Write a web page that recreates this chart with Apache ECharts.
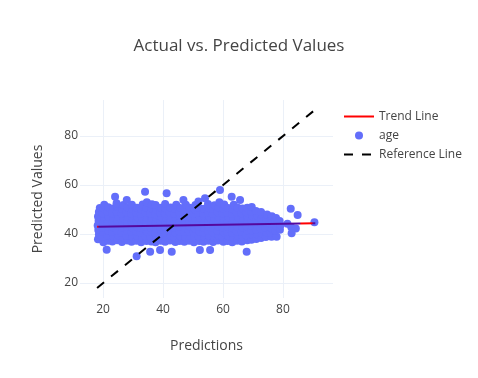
<!DOCTYPE html>
<html>
<head>
<meta charset="utf-8">
<script src="https://cdn.jsdelivr.net/npm/echarts@6/dist/echarts.min.js"></script>
<style>
html,body{margin:0;padding:0;background:#fff;}
#chart{width:478px;height:378px;}
</style>
</head>
<body>
<div id="chart"></div>
<script>
// ---- data ----
const titleText = 'Actual vs. Predicted Values';
const xAxisName = 'Predictions';
const yAxisName = 'Predicted Values';
const xTicks = [20, 40, 60, 80];
const yTicks = [20, 40, 60, 80];
const xRange = [12.3, 96.7];
const yRange = [13.9, 94.7];

const trendX = [18.0, 90.8];
const trendY = [43.0, 44.4];
const refX = [18.0, 90.8];
const refY = [18.0, 90.8];

// "age" points: [prediction, actual]
const agePoints = [
[18.3,37.9],[18.6,39.8],[18.4,41.7],[18.2,43.5],[18.5,45.4],[18.3,47.2],[18.6,49.0],[18.9,50.6],
[20.1,36.6],[19.8,38.9],[20.2,40.8],[19.9,42.6],[20.0,44.6],[20.3,46.5],[19.8,48.4],[20.1,50.5],[20.4,52.0],
[21.2,33.6],[21.7,37.3],[21.5,39.3],[21.8,41.3],[21.4,43.2],[21.6,45.1],[21.9,47.0],[21.5,49.0],[21.7,50.9],
[23.1,37.0],[23.4,39.0],[23.0,40.9],[23.3,42.8],[23.2,44.7],[23.5,46.6],[23.0,48.5],[23.3,50.4],[24.0,55.2],
[24.7,37.5],[25.0,39.5],[24.6,41.4],[24.9,43.3],[24.8,45.2],[25.1,47.1],[24.6,49.0],[24.9,51.0],[24.5,52.6],
[26.3,36.8],[26.6,38.7],[26.2,40.6],[26.5,42.6],[26.4,44.5],[26.7,46.4],[26.2,48.3],[26.5,50.2],[26.8,51.9],
[28.1,37.4],[27.8,39.3],[28.2,41.2],[27.9,43.1],[28.0,45.0],[28.3,47.0],[27.8,48.9],[28.1,50.8],[27.9,53.9],
[29.5,36.9],[29.8,38.8],[29.4,40.8],[29.7,42.7],[29.6,44.6],[29.9,46.5],[29.4,48.4],[29.7,50.3],[29.6,52.0],
[31.2,30.9],[31.1,37.3],[31.4,39.2],[31.0,41.1],[31.3,43.0],[31.2,45.0],[31.5,46.9],[31.0,48.8],[31.3,50.7],
[32.7,36.7],[33.0,38.6],[32.6,40.5],[32.9,42.5],[32.8,44.4],[33.1,46.3],[32.6,48.2],[32.9,50.1],[33.2,52.1],
[34.0,57.3],[34.5,37.2],[34.2,39.2],[34.6,41.1],[34.3,43.0],[34.4,44.9],[34.7,46.8],[34.2,48.7],[34.5,50.7],[34.6,53.0],
[35.7,32.8],[36.1,37.0],[35.8,38.9],[36.2,40.8],[35.9,42.7],[36.0,44.6],[36.3,46.5],[35.8,48.5],[36.1,50.4],[36.3,52.2],
[37.5,36.6],[37.8,38.5],[37.4,40.4],[37.7,42.3],[37.6,44.3],[37.9,46.2],[37.4,48.1],[37.7,50.0],[37.5,51.9],
[39.0,33.5],[39.3,37.3],[39.0,39.2],[39.4,41.1],[39.1,43.0],[39.2,45.0],[39.5,46.9],[39.0,48.8],[39.3,50.7],
[41.2,56.6],[40.7,36.9],[41.0,38.8],[40.6,40.7],[40.9,42.6],[40.8,44.6],[41.1,46.5],[40.6,48.4],[40.9,50.3],[40.7,52.3],
[42.9,32.8],[42.3,37.4],[42.6,39.3],[42.2,41.2],[42.5,43.1],[42.4,45.0],[42.7,46.9],[42.2,48.9],[42.5,50.8],
[44.1,36.8],[43.8,38.7],[44.2,40.6],[43.9,42.5],[44.0,44.4],[44.3,46.4],[43.8,48.3],[44.1,50.2],[44.4,52.0],
[45.5,37.2],[45.8,39.1],[45.4,41.1],[45.7,43.0],[45.6,44.9],[45.9,46.8],[45.4,48.7],[45.7,50.6],
[46.8,53.9],[47.1,36.9],[47.4,38.8],[47.0,40.8],[47.3,42.7],[47.2,44.6],[47.5,46.5],[47.0,48.4],[47.3,50.4],[47.6,52.0],
[48.7,37.3],[49.0,39.2],[48.6,41.1],[48.9,43.0],[48.8,44.9],[49.1,46.9],[48.6,48.8],[48.9,50.7],
[50.3,36.7],[50.6,38.6],[50.2,40.5],[50.5,42.4],[50.4,44.4],[50.7,46.3],[50.2,48.2],[50.5,50.1],[50.8,51.9],
[51.8,53.3],[52.3,33.5],[52.1,37.2],[51.8,39.1],[52.2,41.0],[51.9,42.9],[52.0,44.8],[52.3,46.7],[51.8,48.7],[52.1,50.6],
[53.5,36.9],[53.8,38.8],[53.4,40.7],[53.7,42.6],[53.6,44.6],[53.9,46.5],[53.4,48.4],[53.7,50.3],[54.0,54.6],
[55.7,33.5],[55.1,37.3],[55.4,39.2],[55.0,41.2],[55.3,43.1],[55.2,45.0],[55.5,46.9],[55.0,48.8],[55.3,50.8],[55.0,52.3],
[56.7,36.8],[57.0,38.7],[56.6,40.6],[56.9,42.5],[56.8,44.5],[57.1,46.4],[56.6,48.3],[56.9,50.2],[57.2,51.8],
[59.0,58.0],[58.3,37.4],[58.6,39.3],[58.2,41.2],[58.5,43.1],[58.4,45.1],[58.7,47.0],[58.2,48.9],[58.5,50.8],[58.8,53.0],
[60.1,36.9],[59.8,38.8],[60.2,40.7],[59.9,42.7],[60.0,44.6],[60.3,46.5],[59.8,48.4],[60.1,50.3],[60.4,52.1],
[61.5,37.2],[61.8,39.1],[61.4,41.0],[61.7,42.9],[61.6,44.9],[61.9,46.8],[61.4,48.7],[61.7,50.6],
[62.9,55.2],[63.1,36.7],[63.4,38.6],[63.0,40.5],[63.3,42.4],[63.2,44.3],[63.5,46.3],[63.0,48.2],[63.3,50.1],[63.6,52.0],
[64.7,37.3],[65.0,39.2],[64.6,41.1],[64.9,43.0],[64.8,44.9],[65.1,46.8],[64.6,48.8],[64.9,50.7],
[65.7,53.9],[66.3,37.0],[66.6,38.9],[66.2,40.8],[66.5,42.7],[66.4,44.6],[66.7,46.6],[66.2,48.5],[66.5,50.4],
[67.9,32.8],[68.1,37.5],[67.8,39.4],[68.2,41.3],[67.9,43.2],[68.0,45.1],[68.3,47.0],[67.8,48.9],[68.1,50.7],
[69.5,37.7],[69.8,39.6],[69.4,41.5],[69.7,43.4],[69.6,45.4],[69.9,47.3],[69.4,49.2],[69.6,51.0],
[71.1,38.0],[71.4,39.9],[71.0,41.8],[71.3,43.7],[71.2,45.6],[71.5,47.5],[71.0,49.4],
[72.7,38.4],[73.0,40.3],[72.6,42.2],[72.9,44.1],[72.8,46.0],[73.1,47.9],[72.7,49.0],
[74.3,38.8],[74.6,40.7],[74.2,42.6],[74.5,44.5],[74.4,46.4],[74.7,48.0],
[76.2,38.9],[75.9,40.5],[76.1,42.4],[75.8,44.3],[76.0,46.2],[76.3,47.3],
[77.9,38.9],[77.5,41.3],[77.8,43.2],[77.4,45.1],[77.7,46.5],
[79.0,41.8],[79.2,43.6],[78.9,45.3],
[82.6,50.3],[84.9,47.8],[81.5,44.2],[82.8,42.8],[84.3,42.3],[82.9,40.3],[90.5,44.8]
];

// ---- chart ----
const fontFam = '"Open Sans", verdana, arial, sans-serif';
const textColor = '#444';
const gridColor = '#ebf0f8';
const markerColor = '#636efa';
const overlapColor = '#55089e';

const trendData = trendX.map((x, i) => [x, trendY[i]]);
const refData = refX.map((x, i) => [x, refY[i]]);
const hiddenSymbol = {color: 'rgba(0,0,0,0)', borderWidth: 0, opacity: 0};

const chart = echarts.init(document.getElementById('chart'), null, {renderer: 'canvas'});
chart.setOption({
  animation: false,
  backgroundColor: '#fff',
  textStyle: {fontFamily: fontFam},
  title: {
    text: titleText,
    left: 'center',
    top: 33,
    textStyle: {fontFamily: fontFam, fontSize: 17, fontWeight: 'normal', color: textColor}
  },
  grid: {left: 80, right: 145, top: 100, bottom: 80, containLabel: false},
  legend: {
    orient: 'vertical',
    left: 343,
    top: 107,
    padding: 0,
    itemGap: 0,
    itemWidth: 30,
    itemHeight: 8,
    textStyle: {fontFamily: fontFam, fontSize: 12, color: textColor, lineHeight: 19},
    data: [
      {name: 'Trend Line', lineStyle: {color: '#ff0000', width: 2, type: 'solid'}, itemStyle: hiddenSymbol},
      {name: 'age', icon: 'circle'},
      {name: 'Reference Line', lineStyle: {color: '#000', width: 2, type: [9, 9]}, itemStyle: hiddenSymbol}
    ]
  },
  xAxis: {
    type: 'value',
    min: xRange[0],
    max: xRange[1],
    name: xAxisName,
    nameLocation: 'middle',
    nameGap: 41,
    nameTextStyle: {fontFamily: fontFam, fontSize: 14, color: textColor},
    axisLine: {show: false},
    axisTick: {show: false, customValues: xTicks},
    axisLabel: {customValues: xTicks, margin: 6, color: textColor, fontSize: 12, fontFamily: fontFam},
    splitLine: {show: true, customValues: xTicks, lineStyle: {color: gridColor, width: 1}}
  },
  yAxis: {
    type: 'value',
    min: yRange[0],
    max: yRange[1],
    name: yAxisName,
    nameLocation: 'middle',
    nameGap: 35,
    nameTextStyle: {fontFamily: fontFam, fontSize: 14, color: textColor},
    axisLine: {show: false},
    axisTick: {show: false, customValues: yTicks},
    axisLabel: {customValues: yTicks, margin: 2, color: textColor, fontSize: 12, fontFamily: fontFam},
    splitLine: {show: true, customValues: yTicks, lineStyle: {color: gridColor, width: 1}}
  },
  series: [
    {
      name: 'Trend Line',
      type: 'line',
      data: trendData,
      symbol: 'none',
      showSymbol: false,
      z: 4,
      lineStyle: {
        width: 2,
        color: new echarts.graphic.LinearGradient(0, 0, 1, 0, [
          {offset: 0, color: '#ff0000'},
          {offset: 0.012, color: '#ff0000'},
          {offset: 0.02, color: overlapColor},
          {offset: 0.918, color: overlapColor},
          {offset: 0.925, color: '#ff0000'},
          {offset: 0.972, color: '#ff0000'},
          {offset: 0.98, color: overlapColor},
          {offset: 1, color: overlapColor}
        ])
      },
      itemStyle: {color: '#ff0000'}
    },
    {
      name: 'age',
      type: 'scatter',
      data: agePoints,
      symbol: 'circle',
      symbolSize: 8,
      z: 3,
      itemStyle: {color: markerColor, opacity: 1}
    },
    {
      name: 'Reference Line',
      type: 'line',
      data: refData,
      symbol: 'none',
      showSymbol: false,
      z: 5,
      lineStyle: {width: 2, color: '#000', type: [9, 9]},
      itemStyle: {color: '#000'}
    }
  ]
});
</script>
</body>
</html>
